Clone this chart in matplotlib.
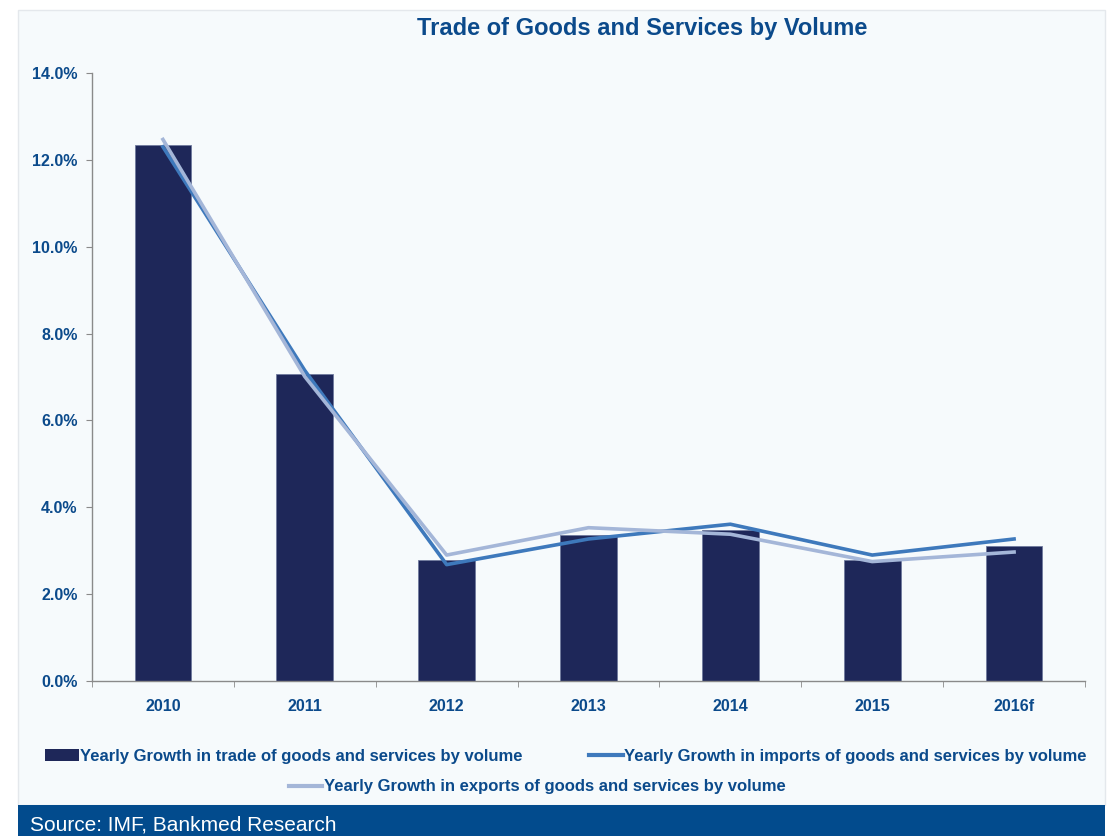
import matplotlib
matplotlib.use("Agg")
import matplotlib.pyplot as plt
from matplotlib.patches import Rectangle, Patch
from matplotlib.lines import Line2D
from matplotlib.ticker import FuncFormatter

years = ["2010", "2011", "2012", "2013", "2014", "2015", "2016f"]
trade = [12.34, 7.07, 2.79, 3.37, 3.48, 2.78, 3.11]
imports = [12.30, 7.15, 2.68, 3.27, 3.61, 2.90, 3.27]
exports = [12.47, 7.01, 2.90, 3.53, 3.38, 2.75, 2.97]

title = "Trade of Goods and Services by Volume"
labels = ["Yearly Growth in trade of goods and services by volume",
          "Yearly Growth in imports of goods and services by volume",
          "Yearly Growth in exports of goods and services by volume"]
source = "Source: IMF, Bankmed Research"

plt.rcParams['font.family'] = ['Liberation Sans', 'DejaVu Sans']
txt = "#0B4A8B"
bar_c = "#1E2759"
imp_c = "#3E79BC"
exp_c = "#A4B6D8"
bg = "#F6FAFC"

W, H = 1112, 836
fig = plt.figure(figsize=(W/100, H/100), dpi=100)
fig.patch.set_facecolor("white")
# panel
fig.patches.append(Rectangle((18/W, 31/H), (1105-18)/W, (826-31)/H, transform=fig.transFigure,
                             facecolor=bg, edgecolor="#E4E8EC", lw=1, zorder=0))
# source band
fig.patches.append(Rectangle((18/W, 0), (1105-18)/W, 31/H, transform=fig.transFigure,
                             facecolor="#024B8D", edgecolor="none", zorder=1))
fig.text(30/W, 11/H, source, color="white", fontsize=15, va="center", ha="left", zorder=3)

ax = fig.add_axes([92/W, (H-681)/H, (1085-92)/W, (681-73)/H])
ax.set_zorder(5)
ax.set_facecolor("none")
x = list(range(len(years)))
ax.bar(x, trade, width=0.4, color=bar_c, edgecolor="#6F7A9E", linewidth=0.6, zorder=2)
ax.plot(x, imports, color=imp_c, lw=2.6, zorder=3)
ax.plot(x, exports, color=exp_c, lw=2.6, zorder=4)
ax.set_xlim(-0.5, 6.5)
ax.set_ylim(0, 14)
ax.set_yticks([0, 2, 4, 6, 8, 10, 12, 14])
ax.yaxis.set_major_formatter(FuncFormatter(lambda v, p: f"{v:.1f}%"))
ax.set_xticks(x)
ax.set_xticklabels(years)
ax.set_xticks([i - 0.5 for i in range(len(years) + 1)], minor=True)
ax.tick_params(axis="x", which="major", length=0, pad=13, labelsize=11.5, labelcolor=txt)
ax.tick_params(axis="x", which="minor", length=4, color="#8A8A8A")
ax.tick_params(axis="y", length=4, color="#8A8A8A", labelsize=11.5, labelcolor=txt, pad=6.5)
for lab in ax.get_xticklabels() + ax.get_yticklabels():
    lab.set_fontweight("bold")
for s in ["top", "right"]:
    ax.spines[s].set_visible(False)
for s in ["left", "bottom"]:
    ax.spines[s].set_color("#8A8A8A")
    ax.spines[s].set_linewidth(1)

fig.text(642/W, (H-29)/H, title, color=txt, fontsize=17, fontweight="bold", ha="center", va="center")

h1 = Patch(facecolor=bar_c, edgecolor="none")
h2 = Line2D([], [], color=imp_c, lw=3)
h3 = Line2D([], [], color=exp_c, lw=3)
legkw = dict(frameon=False, handlelength=2.0, handletextpad=0.1, prop={"weight": "bold", "size": 12})
leg1 = fig.legend([h1, h2], labels[:2], loc="center", bbox_to_anchor=(566/W, (H-756)/H),
                  ncol=2, columnspacing=4.0, **legkw)
for t in leg1.get_texts():
    t.set_color(txt)
leg2 = fig.legend([h3], labels[2:], loc="center", bbox_to_anchor=(537/W, (H-787)/H), **legkw)
for t in leg2.get_texts():
    t.set_color(txt)

fig.savefig("out.png", dpi=100, facecolor="white")
